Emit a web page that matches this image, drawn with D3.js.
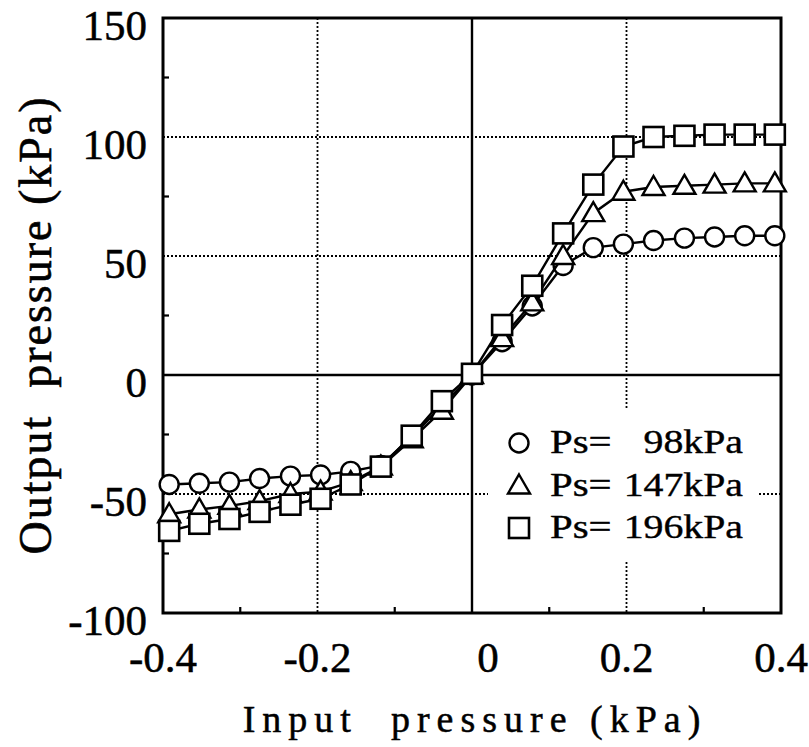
<!DOCTYPE html>
<html>
<head>
<meta charset="utf-8">
<script src="https://cdn.jsdelivr.net/npm/d3@7"></script>
<style>
  body { margin: 0; background: #fff; }
  svg { display: block; }
</style>
</head>
<body>
<div id="chart"></div>
<script>
// input pressure steps (kPa)
const inputP = [-0.392, -0.353, -0.314, -0.275, -0.235, -0.196, -0.157, -0.118, -0.078, -0.039,
  0, 0.039, 0.078, 0.118, 0.157, 0.196, 0.235, 0.275, 0.314, 0.353, 0.392]

// output pressure (kPa) for each supply pressure
const out98 = [-46, -45.5, -45, -43.5, -42.5, -42, -40.5, -38, -26, -13,
  0, 14, 29, 46, 53.5, 55, 56.5, 57.5, 58, 58.5, 58.5]
const out147 = [-58.5, -56.5, -55, -53, -50, -49, -45, -38.5, -27, -15,
  0, 15.5, 30.5, 50, 68, 77, 79, 79.5, 80, 80.5, 80.5]
const out196 = [-65.5, -62.5, -60.5, -57.5, -54.5, -52, -46, -38.5, -25.5, -11,
  0.5, 21, 37.5, 59.5, 80, 96, 100, 100.5, 101, 101, 101]

const seriesNames = ["98kPa", "147kPa", "196kPa"]
const seriesShapes = ["circle", "triangle", "square"]

const xTicks = [-0.4, -0.2, 0, 0.2, 0.4]
const xMinor = [-0.3, -0.1, 0.1, 0.3]
const yTicks = [150, 100, 50, 0, -50, -100]
const yMinor = [125, 75, 25, -25, -75]

const width = 809, height = 747
const font = "'Liberation Serif', 'Times New Roman', serif"

const svg = d3.select("#chart").append("svg")
  .attr("width", width)
  .attr("height", height)

const x = d3.scaleLinear().domain([-0.4, 0.4]).range([163, 781])
const y = d3.scaleLinear().domain([-100, 150]).range([613, 18])

// dotted grid
svg.append("g").selectAll("line")
  .data(xTicks.filter(d => Math.abs(d) > 0 && Math.abs(d) < 0.4))
  .enter().append("line")
  .attr("x1", d => x(d)).attr("x2", d => x(d))
  .attr("y1", y(150)).attr("y2", y(-100))
  .style("stroke", "#000").style("stroke-width", 1.8)
  .style("stroke-dasharray", "2,2")

svg.append("g").selectAll("line")
  .data(yTicks.filter(d => d !== 0 && d !== 150 && d !== -100))
  .enter().append("line")
  .attr("x1", x(-0.4)).attr("x2", x(0.4))
  .attr("y1", d => y(d)).attr("y2", d => y(d))
  .style("stroke", "#000").style("stroke-width", 1.8)
  .style("stroke-dasharray", "2,2")

// solid zero lines
svg.append("line")
  .attr("x1", x(0)).attr("x2", x(0)).attr("y1", y(150)).attr("y2", y(-100))
  .style("stroke", "#000").style("stroke-width", 2.4)
svg.append("line")
  .attr("x1", x(-0.4)).attr("x2", x(0.4)).attr("y1", y(0)).attr("y2", y(0))
  .style("stroke", "#000").style("stroke-width", 2.4)

// minor ticks (inward)
svg.append("g").selectAll("line")
  .data(xMinor).enter().append("line")
  .attr("x1", d => x(d)).attr("x2", d => x(d))
  .attr("y1", y(-100)).attr("y2", y(-100) - 6)
  .style("stroke", "#000").style("stroke-width", 2.2)
svg.append("g").selectAll("line")
  .data(yMinor).enter().append("line")
  .attr("x1", x(-0.4)).attr("x2", x(-0.4) + 6)
  .attr("y1", d => y(d)).attr("y2", d => y(d))
  .style("stroke", "#000").style("stroke-width", 2.2)

// frame
svg.append("rect")
  .attr("x", x(-0.4)).attr("y", y(150))
  .attr("width", x(0.4) - x(-0.4)).attr("height", y(-100) - y(150))
  .style("fill", "none").style("stroke", "#000").style("stroke-width", 3)

// tick labels
svg.append("g").selectAll("text")
  .data(yTicks).enter().append("text")
  .attr("x", 147)
  .attr("y", d => y(d) + 22)
  .attr("text-anchor", "end")
  .style("font-family", font).style("font-size", "43px")
  .style("stroke", "#000").style("stroke-width", 0.5)
  .text(d => d)

svg.append("g").selectAll("text")
  .data(xTicks).enter().append("text")
  .attr("x", d => x(d) + (d === 0 ? 16 : 0))
  .attr("y", 672)
  .attr("text-anchor", "middle")
  .style("font-family", font).style("font-size", "43px")
  .style("stroke", "#000").style("stroke-width", 0.5)
  .text(d => d === 0 ? "0" : d.toFixed(1))

// axis titles
svg.append("text")
  .attr("x", x(0) + 3)
  .attr("y", 732)
  .attr("text-anchor", "middle")
  .style("font-family", font).style("font-size", "38px")
  .style("letter-spacing", "7px")
  .style("white-space", "pre")
  .style("stroke", "#000").style("stroke-width", 0.5)
  .text("Input  pressure (kPa)")

svg.append("text")
  .attr("transform", "translate(51,325) rotate(-90)")
  .attr("text-anchor", "middle")
  .style("font-family", font).style("font-size", "46px")
  .style("letter-spacing", "2px")
  .style("white-space", "pre")
  .style("stroke", "#000").style("stroke-width", 0.6)
  .text("Output  pressure (kPa)")

// markers
function drawMarker(g, shape, cx, cy) {
  if (shape === "circle") {
    g.append("circle").attr("cx", cx).attr("cy", cy).attr("r", 9.5)
      .style("fill", "#fff").style("stroke", "#000").style("stroke-width", 2.4)
  } else if (shape === "triangle") {
    g.append("path")
      .attr("d", `M${cx},${cy - 11} L${cx + 11},${cy + 8} L${cx - 11},${cy + 8} Z`)
      .style("fill", "#fff").style("stroke", "#000").style("stroke-width", 2.4)
  } else {
    g.append("rect").attr("x", cx - 10).attr("y", cy - 10).attr("width", 20).attr("height", 20)
      .style("fill", "#fff").style("stroke", "#000").style("stroke-width", 2.6)
  }
}

const allSeries = [out98, out147, out196]
const line = d3.line()
  .x((d, i) => x(inputP[i]))
  .y(d => y(d))

allSeries.forEach((vals, k) => {
  const g = svg.append("g")
  g.append("path")
    .attr("d", line(vals))
    .style("fill", "none").style("stroke", "#000").style("stroke-width", 2.4)
  vals.forEach((v, i) => drawMarker(g, seriesShapes[k], x(inputP[i]), y(v)))
})

// legend
const legend = svg.append("g")
legend.append("rect")
  .attr("x", 488).attr("y", 410).attr("width", 269).attr("height", 150)
  .style("fill", "#fff")

seriesNames.forEach((name, k) => {
  const base = 453 + k * 42.5
  drawMarker(legend, seriesShapes[k], 519, base - 10)
  legend.append("text")
    .attr("transform", `translate(550,${base}) scale(1.2,1)`)
    .style("font-family", font).style("font-size", "34px")
    .style("stroke", "#000").style("stroke-width", 0.4)
    .text("Ps=")
  legend.append("text")
    .attr("transform", `translate(743,${base}) scale(1.17,1)`)
    .attr("text-anchor", "end")
    .style("font-family", font).style("font-size", "34px")
    .style("stroke", "#000").style("stroke-width", 0.4)
    .text(name)
})
</script>
</body>
</html>
